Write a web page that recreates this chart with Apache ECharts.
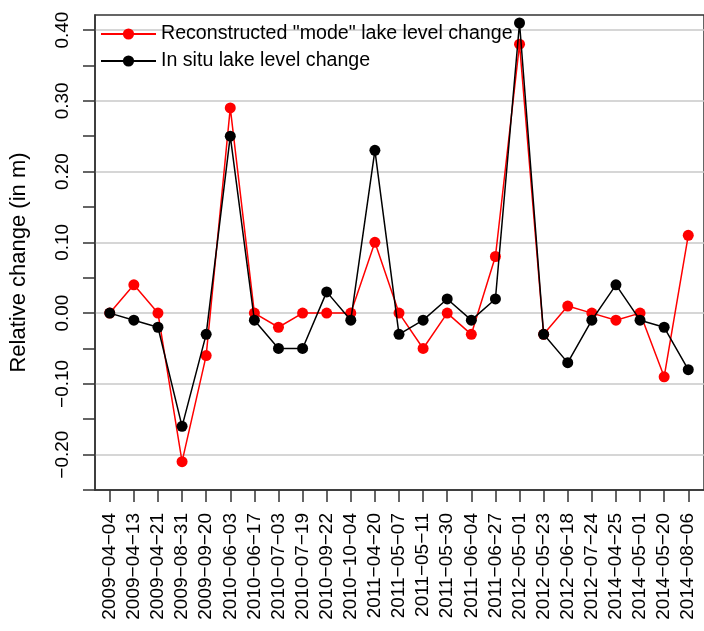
<!DOCTYPE html>
<html><head><meta charset="utf-8">
<script src="https://cdn.jsdelivr.net/npm/echarts@6/dist/echarts.min.js"></script>
<style>html,body{margin:0;padding:0;background:#fff}#c{width:704px;height:631px}</style>
</head><body><div id="c"></div>
<script>
const categories = ['2009-04-04','2009-04-13','2009-04-21','2009-08-31','2009-09-20','2010-06-03','2010-06-17','2010-07-03','2010-07-19','2010-09-22','2010-10-04','2011-04-20','2011-05-07','2011-05-11','2011-05-30','2011-06-04','2011-06-27','2012-05-01','2012-05-23','2012-06-18','2012-07-24','2014-04-25','2014-05-01','2014-05-20','2014-08-06'];
const reconstructedMode = [0.00,0.04,0.00,-0.21,-0.06,0.29,0.00,-0.02,0.00,0.00,0.00,0.10,0.00,-0.05,0.00,-0.03,0.08,0.38,-0.03,0.01,0.00,-0.01,0.00,-0.09,0.11];
const inSitu = [0.00,-0.01,-0.02,-0.16,-0.03,0.25,-0.01,-0.05,-0.05,0.03,-0.01,0.23,-0.03,-0.01,0.02,-0.01,0.02,0.41,-0.03,-0.07,-0.01,0.04,-0.01,-0.02,-0.08];
const yTickValues = [-0.25,-0.2,-0.15,-0.1,-0.05,0,0.05,0.1,0.15,0.2,0.25,0.3,0.35,0.4];
const yLabelValues = [-0.2,-0.1,0,0.1,0.2,0.3,0.4];
const seriesNames = ['Reconstructed "mode" lake level change', 'In situ lake level change'];
const yTitle = 'Relative change (in m)';

const FONT = 'Liberation Sans';
const xIdx = categories.map((c, i) => i);
const toPairs = arr => arr.map((v, i) => [i, v]);

const chart = echarts.init(document.getElementById('c'), null, {renderer: 'canvas'});
chart.setOption({
  animation: false,
  backgroundColor: '#fff',
  textStyle: {fontFamily: FONT},
  grid: {left: 95, top: 15, bottom: 141, right: -10, show: true, borderColor: '#333', borderWidth: 1.5, backgroundColor: 'transparent'},
  legend: {
    data: seriesNames,
    orient: 'vertical',
    left: 100, top: 24, padding: 0,
    itemWidth: 55, itemHeight: 14, itemGap: 7,
    textStyle: {fontFamily: FONT, fontSize: 19.6, color: '#000', lineHeight: 20},
    selectedMode: false
  },
  xAxis: {
    type: 'value', min: -0.612, max: 24.653,
    splitLine: {show: false},
    axisLine: {show: true, onZero: false, lineStyle: {color: '#333', width: 1.5}},
    axisTick: {show: true, length: 12, inside: false, customValues: xIdx, lineStyle: {color: '#333', width: 1.5}},
    axisLabel: {
      customValues: xIdx, rotate: 90, margin: 23,
      fontFamily: FONT, fontSize: 19, color: '#000',
      formatter: v => (categories[Math.round(v)] || '').replace(/-/g, '\u2212')
    }
  },
  yAxis: {
    type: 'value', min: -0.25, max: 0.4213, interval: 0.05,
    axisLine: {show: true, onZero: false, lineStyle: {color: '#333', width: 1.5}},
    axisTick: {show: true, length: 12, inside: false, customValues: yTickValues, lineStyle: {color: '#333', width: 1.5}},
    axisLabel: {
      customValues: yLabelValues, rotate: 90, margin: 23,
      fontFamily: FONT, fontSize: 19, color: '#000',
      formatter: v => v.toFixed(2).replace('-', '\u2212')
    },
    splitLine: {show: true, lineStyle: {color: ['rgba(0,0,0,0)', '#c8c8c8'], width: 1.5}},
    name: yTitle, nameLocation: 'middle', nameRotate: 90, nameGap: 65,
    nameTextStyle: {fontFamily: FONT, fontSize: 22, color: '#000', padding: [0, 20, 0, 0]}
  },
  series: [
    {name: seriesNames[0], type: 'line', data: toPairs(reconstructedMode), symbol: 'circle', symbolSize: 11,
     itemStyle: {color: '#ff0000'}, lineStyle: {color: '#ff0000', width: 1.5}, z: 2},
    {name: seriesNames[1], type: 'line', data: toPairs(inSitu), symbol: 'circle', symbolSize: 11,
     itemStyle: {color: '#000000'}, lineStyle: {color: '#000000', width: 1.5}, z: 3}
  ]
});
</script></body></html>
